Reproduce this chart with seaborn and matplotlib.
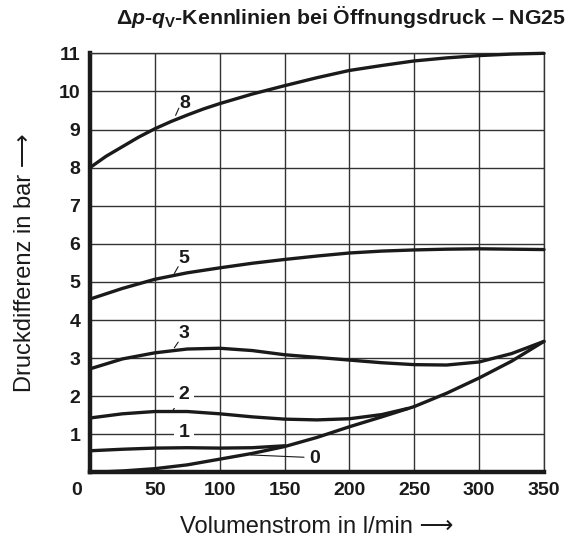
import matplotlib
matplotlib.use("Agg")
import matplotlib.pyplot as plt
from matplotlib.transforms import ScaledTranslation
import seaborn as sns
import pandas as pd

# flow in l/min, pressure difference in bar
flow_full = [0, 25, 50, 75, 100, 125, 150, 175, 200, 225, 250, 275, 300, 325, 350]
flow_8 = [0, 12.5, 25, 37.5, 50, 62.5, 75, 87.5, 100, 125, 150, 175, 200, 225, 250, 275, 300, 325, 350]
dp_8 = [8.0, 8.3, 8.55, 8.8, 9.02, 9.21, 9.38, 9.54, 9.68, 9.93, 10.15, 10.36, 10.55, 10.68, 10.8, 10.88, 10.94, 10.98, 11.0]
dp_5 = [4.55, 4.83, 5.07, 5.24, 5.37, 5.49, 5.59, 5.68, 5.76, 5.81, 5.84, 5.86, 5.87, 5.86, 5.85]
dp_3 = [2.72, 2.98, 3.14, 3.24, 3.26, 3.2, 3.09, 3.02, 2.95, 2.88, 2.83, 2.82, 2.9, 3.12, 3.44]
dp_0 = [0.0, 0.04, 0.1, 0.2, 0.35, 0.5, 0.68, 0.92, 1.2, 1.46, 1.73, 2.08, 2.48, 2.92, 3.44]
flow_2 = [0, 25, 50, 75, 100, 125, 150, 175, 200, 225, 245]
dp_2 = [1.43, 1.54, 1.6, 1.6, 1.54, 1.46, 1.4, 1.38, 1.41, 1.52, 1.68]
flow_1 = [0, 25, 50, 75, 100, 125, 150]
dp_1 = [0.57, 0.61, 0.64, 0.65, 0.64, 0.65, 0.70]

curve_names = ["8", "5", "3", "2", "1", "0"]
# label text position and leader line (start, end) in data units
label_pos = {"8": (73, 9.69), "5": (72.5, 5.61), "3": (72.5, 3.66), "2": (72.5, 2.04), "1": (72.5, 1.05), "0": (173, 0.37)}
leader = {"8": ((66, 9.37), (68.5, 9.56)), "5": ((65, 5.22), (68, 5.40)), "3": ((65, 3.27), (68, 3.42)),
          "2": ((64, 1.63), (67, 1.80)), "1": ((66.7, 0.70), (69, 0.87)), "0": ((124, 0.46), (165, 0.40))}
boxed = ["2", "1"]  # these sit on a grid line

rows = []
for name, xs, ys in [("8", flow_8, dp_8), ("5", flow_full, dp_5), ("3", flow_full, dp_3),
                     ("2", flow_2, dp_2), ("1", flow_1, dp_1), ("0", flow_full, dp_0)]:
    for x, y in zip(xs, ys):
        rows.append({"flow": x, "dp": y, "curve": name})
df = pd.DataFrame(rows)

sns.set_theme(style="white")
plt.rcParams["font.family"] = ["Liberation Sans", "DejaVu Sans"]
plt.rcParams["mathtext.fontset"] = "custom"
plt.rcParams["mathtext.it"] = "Liberation Sans:italic:bold"
plt.rcParams["mathtext.rm"] = "Liberation Sans:bold"

fig = plt.figure(figsize=(5.72, 5.39), dpi=100)
ax = fig.add_axes([0.1573, 0.1234, 0.7937, 0.7777])

sns.lineplot(data=df, x="flow", y="dp", hue="curve", hue_order=curve_names,
             palette=["#1a1a1a"] * 6, legend=False, estimator=None, sort=False,
             linewidth=2.4, ax=ax, clip_on=False, zorder=3)

ax.set_xlim(0, 350)
ax.set_ylim(0, 11)
ax.set_xticks(range(0, 351, 50))
ax.set_yticks(range(0, 12))
ax.set_yticklabels([""] + [str(i) for i in range(1, 12)])
ax.grid(True, color="#333333", linewidth=1.0)
ax.tick_params(length=0, labelsize=14, pad=7)
for lbl in ax.get_xticklabels() + ax.get_yticklabels():
    lbl.set_fontweight("bold")
    lbl.set_color("#1a1a1a")
# the corner "0" sits left of the origin
first = ax.get_xticklabels()[0]
first.set_transform(first.get_transform() + ScaledTranslation(-0.13, 0, fig.dpi_scale_trans))

for side in ["left", "bottom"]:
    ax.spines[side].set_linewidth(3.2)
    ax.spines[side].set_color("#1a1a1a")
for side in ["top", "right"]:
    ax.spines[side].set_linewidth(1.0)
    ax.spines[side].set_color("#333333")

for name in curve_names:
    (x0, y0), (x1, y1) = leader[name]
    ax.plot([x0, x1], [y0, y1], color="#1a1a1a", linewidth=0.8, zorder=4)
    tx, ty = label_pos[name]
    box = dict(boxstyle="square,pad=0.25", facecolor="white", edgecolor="none") if name in boxed else None
    ax.text(tx, ty, name, ha="center", va="center", fontsize=14, fontweight="bold",
            color="#1a1a1a", zorder=5, bbox=box)

ax.set_xlabel("Volumenstrom in l/min \u27f6", fontsize=17, color="#1a1a1a", va="center")
ax.xaxis.set_label_coords(0.5, -0.13)
ax.set_ylabel("Druckdifferenz in bar \u27f6", fontsize=17, color="#1a1a1a", va="center")
ax.yaxis.set_label_coords(-0.143, 0.5)

fig.text(566 / 572, 1 - 17 / 539, r"Δ$p$-$q_\mathrm{V}$-Kennlinien bei Öffnungsdruck – NG25",
         ha="right", va="center", fontsize=15.3, fontweight="bold", color="#1a1a1a")

fig.savefig("out.png", dpi=100)
plt.close(fig)
